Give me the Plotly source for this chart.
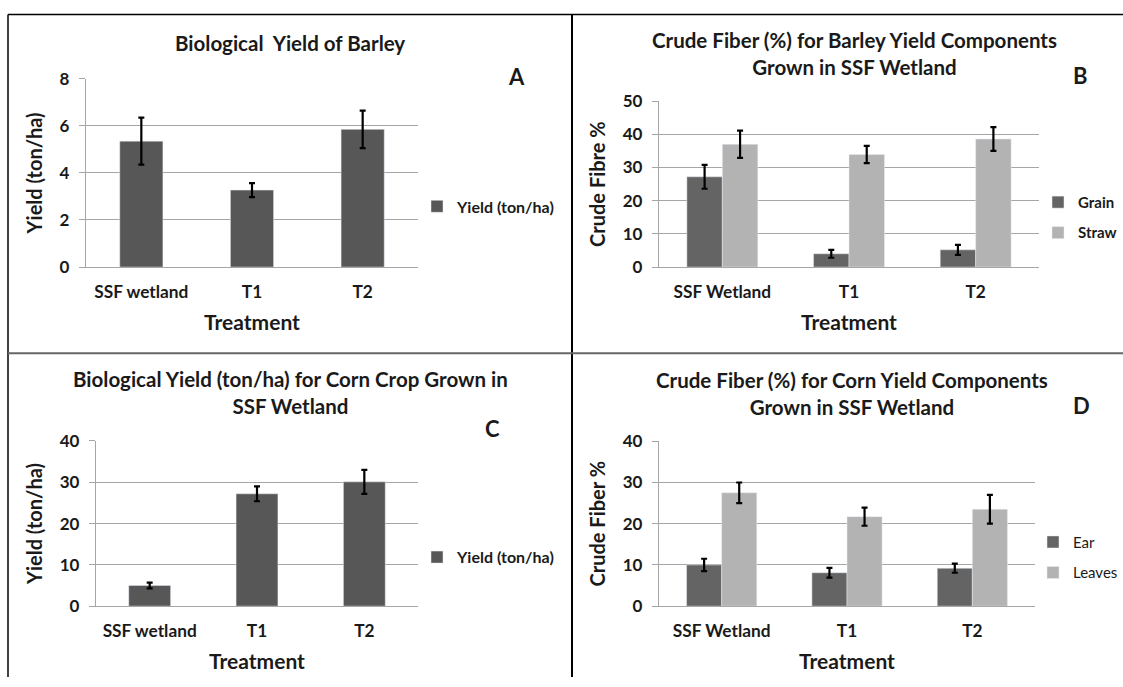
import plotly.graph_objects as go

# ---------------- data ----------------
barley_cats = ["SSF wetland", "T1", "T2"]
barley_yield = [5.35, 3.27, 5.85]
barley_yield_err = [1.0, 0.3, 0.8]

fiber_cats = ["SSF Wetland", "T1", "T2"]
grain_fiber = [27.2, 4.0, 5.2]
grain_fiber_err = [3.6, 1.2, 1.5]
straw_fiber = [37.0, 33.9, 38.6]
straw_fiber_err = [4.1, 2.6, 3.6]

corn_cats = ["SSF wetland", "T1", "T2"]
corn_yield = [5.0, 27.2, 30.1]
corn_yield_err = [0.7, 1.8, 2.9]

ear_fiber = [10.0, 8.1, 9.2]
ear_fiber_err = [1.5, 1.2, 1.1]
leaves_fiber = [27.5, 21.7, 23.5]
leaves_fiber_err = [2.5, 2.2, 3.5]

W, H = 1123, 687
FONT = "Lato, 'Open Sans', Arial, sans-serif"
TXT = "#1a1a1a"
DARK = "#575757"
GRAIN = "#646464"
LIGHT = "#b3b3b3"
GRID = "#a6a6a6"

# vertical calibration of the captured page (observed: out = C + S * layout_px)
S, C = 0.97, 10.5


def px(x):
    return x / W


def py(y):
    yin = (y - C) / S
    return min(1.0, max(0.0, 1 - yin / H))


def err(vals):
    return dict(type="data", array=vals, color="black", thickness=2.2, width=3, visible=True)


fig = go.Figure()

# Panel A
fig.add_trace(go.Bar(x=barley_cats, y=barley_yield, name="Yield (ton/ha)", marker_color=DARK,
                     width=0.39, error_y=err(barley_yield_err), xaxis="x", yaxis="y",
                     legend="legend"))
# Panel B
fig.add_trace(go.Bar(x=fiber_cats, y=grain_fiber, name="Grain", marker_color=GRAIN,
                     width=0.28, offset=-0.28, error_y=err(grain_fiber_err), xaxis="x2", yaxis="y2",
                     legend="legend2", legendgroup="g1"))
fig.add_trace(go.Bar(x=fiber_cats, y=straw_fiber, name="Straw", marker_color=LIGHT,
                     width=0.28, offset=0.0, error_y=err(straw_fiber_err), xaxis="x2", yaxis="y2",
                     legend="legend2", legendgroup="g2"))
# Panel C
fig.add_trace(go.Bar(x=corn_cats, y=corn_yield, name="Yield (ton/ha)", marker_color=DARK,
                     width=0.39, error_y=err(corn_yield_err), xaxis="x3", yaxis="y3",
                     legend="legend3"))
# Panel D
fig.add_trace(go.Bar(x=fiber_cats, y=ear_fiber, name="Ear", marker_color=GRAIN,
                     width=0.28, offset=-0.28, error_y=err(ear_fiber_err), xaxis="x4", yaxis="y4",
                     legend="legend4", legendgroup="g1"))
fig.add_trace(go.Bar(x=fiber_cats, y=leaves_fiber, name="Leaves", marker_color=LIGHT,
                     width=0.28, offset=0.0, error_y=err(leaves_fiber_err), xaxis="x4", yaxis="y4",
                     legend="legend4", legendgroup="g2"))


def xax(domain, anchor):
    return dict(domain=[px(domain[0]), px(domain[1])], anchor=anchor, type="category",
                showline=True, linecolor=GRID, linewidth=1.3, ticks="", showgrid=False,
                tickfont=dict(family=FONT, size=17.3, color=TXT, weight="bold"),
                ticklabelstandoff=9,
                title=dict(text="Treatment", font=dict(family=FONT, size=21, color=TXT, weight="bold"),
                           standoff=14),
                zeroline=False, fixedrange=True)


def yax(domain, anchor, rng, dtick, title):
    return dict(domain=[py(domain[1]), py(domain[0])], anchor=anchor, range=rng, dtick=dtick,
                showline=True, linecolor=GRID, linewidth=1.3, ticks="outside", ticklen=6,
                tickcolor=GRID, tickwidth=1.3, showgrid=True, gridcolor=GRID, gridwidth=1.3,
                tickfont=dict(family=FONT, size=17, color=TXT, weight="bold"),
                ticklabelstandoff=6,
                title=dict(text=title, font=dict(family=FONT, size=20, color=TXT, weight="bold"),
                           standoff=11),
                zeroline=False, fixedrange=True)


def leg(x, y, size, weight):
    return dict(x=px(x), y=py(y), xref="paper", yref="paper", xanchor="left", yanchor="middle",
                bgcolor="rgba(0,0,0,0)", font=dict(family=FONT, size=size, color=TXT, weight=weight),
                tracegroupgap=8, itemwidth=30)


fig.update_layout(
    width=W, height=H, autosize=False, margin=dict(l=0, r=0, t=0, b=0),
    paper_bgcolor="white", plot_bgcolor="white", barmode="group", showlegend=True,
    xaxis=xax((86, 418), "y"), yaxis=yax((78.3, 266.7), "x", [0, 8], 2, "Yield (ton/ha)"),
    xaxis2=xax((659, 1039), "y2"), yaxis2=yax((100.7, 266.7), "x2", [0, 50], 10, "Crude Fibre %"),
    xaxis3=xax((96, 418), "y3"), yaxis3=yax((440.7, 606), "x3", [0, 40], 10, "Yield (ton/ha)"),
    xaxis4=xax((659, 1035), "y4"), yaxis4=yax((441, 606), "x4", [0, 40], 10, "Crude Fiber %"),
    legend=leg(417, 206, 16, "bold"), legend2=leg(1038, 217, 15, "bold"),
    legend3=leg(417, 557, 16, "bold"), legend4=leg(1033, 557, 15, "normal"),
)

titles = [
    ("Biological&nbsp; Yield of Barley", 290, 43),
    ("Crude Fiber (%) for Barley Yield Components<br>Grown in SSF Wetland", 854, 53.5),
    ("Biological Yield (ton/ha) for Corn Crop Grown in<br>SSF Wetland", 290, 392.5),
    ("Crude Fiber (%) for Corn Yield Components<br>Grown in SSF Wetland", 852, 393),
]
for text, x, y in titles:
    fig.add_annotation(text=text, x=px(x), y=py(y), xref="paper", yref="paper", showarrow=False,
                       xanchor="center", yanchor="middle", align="center",
                       font=dict(family=FONT, size=20.5, color=TXT, weight="bold"))

letters = [("A", 516, 76), ("B", 1080, 75), ("C", 492, 428), ("D", 1081, 405)]
for text, x, y in letters:
    fig.add_annotation(text=text, x=px(x), y=py(y), xref="paper", yref="paper", showarrow=False,
                       xanchor="center", yanchor="middle",
                       font=dict(family=FONT, size=22, color=TXT, weight="bold"))

# panel frame lines
frame = [
    (8, 14, 1123, 14, "black", 1.5),
    (8, 14, 8, 687, "black", 1.5),
    (572, 14, 572, 687, "black", 2),
    (8, 353, 1123, 353, "#666666", 2),
]
for x0, y0, x1, y1, c, w in frame:
    fig.add_shape(type="line", x0=px(x0), y0=py(y0), x1=px(x1), y1=py(y1), xref="paper", yref="paper",
                  line=dict(color=c, width=w))

fig.write_html("out.html")
